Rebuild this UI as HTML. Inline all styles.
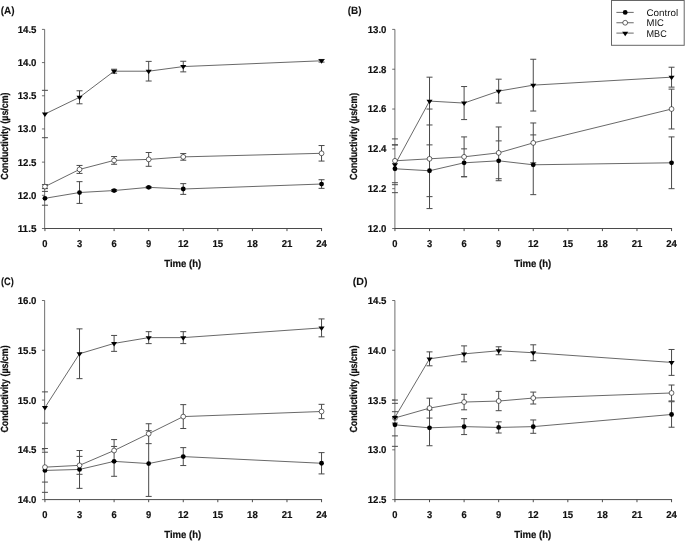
<!DOCTYPE html>
<html lang="en">
<head>
<meta charset="utf-8">
<title>Conductivity vs time</title>
<style>
html,body{margin:0;padding:0;background:#fff;}
body{width:685px;height:541px;overflow:hidden;}
svg{display:block;will-change:transform;text-rendering:geometricPrecision;}
text{font-family:'Liberation Sans', sans-serif;fill:#111;}
.tk{font-size:10px;font-weight:700;stroke:#111;stroke-width:0.18;}
.tt{font-size:10.3px;font-weight:700;stroke:#111;stroke-width:0.22;}
.pl{font-size:10.6px;font-weight:700;stroke:#111;stroke-width:0.08;}
.lg{font-size:9.7px;font-weight:400;}
.ln{fill:none;stroke:#2e2e2e;stroke-width:0.72;}
.eb{fill:none;stroke:#4a4a4a;stroke-width:1;}
.ax{fill:none;stroke:#4a4a4a;stroke-width:0.8;}
.axh{fill:none;stroke:#4a4a4a;stroke-width:1;}
</style>
</head>
<body>
<svg width="685" height="541" viewBox="0 0 685 541">
<rect width="685" height="541" fill="#fff"/>
<g class="panel">
<path class="eb" d="M79.53 90.79V103.8M79.53 165.45V173.42M79.53 181.65V203.41M114.1 69.22V73.2M114.1 156.56V164.26M114.1 189.54V191.53M148.68 61.39V81.03M148.68 152.51V166.31M148.68 186.56V188.15M183.25 61.26V71.87M183.25 153.57V160.21M183.25 183.64V194.39M321.55 59.46V62.12M321.55 145.54V161.07M321.55 179.72V188.35"/>
<path class="eb" d="M41.95 191.4h6M41.95 205.21h6M76.53 181.65h6M76.53 203.41h6M111.1 189.54h6M111.1 191.53h6M145.68 186.56h6M145.68 188.15h6M180.25 183.64h6M180.25 194.39h6M318.55 179.72h6M318.55 188.35h6M41.95 184.63h6M41.95 188.61h6M76.53 165.45h6M76.53 173.42h6M111.1 156.56h6M111.1 164.26h6M145.68 152.51h6M145.68 166.31h6M180.25 153.57h6M180.25 160.21h6M318.55 145.54h6M318.55 161.07h6M41.95 90.32h6M41.95 137.71h6M76.53 90.79h6M76.53 103.8h6M111.1 69.22h6M111.1 73.2h6M145.68 61.39h6M145.68 81.03h6M180.25 61.26h6M180.25 71.87h6M318.55 59.46h6M318.55 62.12h6"/>
<path class="ax" d="M44.65 29.4V228.5M41.95 228.5H44.65M41.95 195.32H44.65M41.95 162.13H44.65M41.95 128.95H44.65M41.95 95.77H44.65M41.95 62.58H44.65M41.95 29.4H44.65"/>
<path class="axh" d="M44.25 228.5H322.05M44.95 228.5v2.6M79.53 228.5v2.6M114.1 228.5v2.6M148.68 228.5v2.6M183.25 228.5v2.6M217.82 228.5v2.6M252.4 228.5v2.6M286.98 228.5v2.6M321.55 228.5v2.6"/>
<polyline class="ln" points="44.95,198.3 79.53,192.53 114.1,190.54 148.68,187.35 183.25,189.01 321.55,184.03"/>
<polyline class="ln" points="44.95,186.62 79.53,169.43 114.1,160.41 148.68,159.41 183.25,156.89 321.55,153.31"/>
<polyline class="ln" points="44.95,114.02 79.53,97.29 114.1,71.21 148.68,71.21 183.25,66.57 321.55,60.79"/>
<circle cx="44.95" cy="198.3" r="2.4" fill="#000"/>
<circle cx="79.53" cy="192.53" r="2.4" fill="#000"/>
<circle cx="114.1" cy="190.54" r="2.4" fill="#000"/>
<circle cx="148.68" cy="187.35" r="2.4" fill="#000"/>
<circle cx="183.25" cy="189.01" r="2.4" fill="#000"/>
<circle cx="321.55" cy="184.03" r="2.4" fill="#000"/>
<circle cx="44.95" cy="186.62" r="2.4" fill="#fff" stroke="#111" stroke-width="0.62"/>
<circle cx="79.53" cy="169.43" r="2.4" fill="#fff" stroke="#111" stroke-width="0.62"/>
<circle cx="114.1" cy="160.41" r="2.4" fill="#fff" stroke="#111" stroke-width="0.62"/>
<circle cx="148.68" cy="159.41" r="2.4" fill="#fff" stroke="#111" stroke-width="0.62"/>
<circle cx="183.25" cy="156.89" r="2.4" fill="#fff" stroke="#111" stroke-width="0.62"/>
<circle cx="321.55" cy="153.31" r="2.4" fill="#fff" stroke="#111" stroke-width="0.62"/>
<path d="M41.9 112.57H48L44.95 117.07Z" fill="#000"/>
<path d="M76.48 95.84H82.58L79.53 100.34Z" fill="#000"/>
<path d="M111.05 69.76H117.15L114.1 74.26Z" fill="#000"/>
<path d="M145.62 69.76H151.73L148.68 74.26Z" fill="#000"/>
<path d="M180.2 65.12H186.3L183.25 69.62Z" fill="#000"/>
<path d="M318.5 59.34H324.6L321.55 63.84Z" fill="#000"/>
<text class="tk" x="36.45" y="231.95" text-anchor="end" textLength="18.8" lengthAdjust="spacingAndGlyphs">11.5</text>
<text class="tk" x="36.45" y="198.77" text-anchor="end" textLength="18.8" lengthAdjust="spacingAndGlyphs">12.0</text>
<text class="tk" x="36.45" y="165.58" text-anchor="end" textLength="18.8" lengthAdjust="spacingAndGlyphs">12.5</text>
<text class="tk" x="36.45" y="132.4" text-anchor="end" textLength="18.8" lengthAdjust="spacingAndGlyphs">13.0</text>
<text class="tk" x="36.45" y="99.22" text-anchor="end" textLength="18.8" lengthAdjust="spacingAndGlyphs">13.5</text>
<text class="tk" x="36.45" y="66.03" text-anchor="end" textLength="18.8" lengthAdjust="spacingAndGlyphs">14.0</text>
<text class="tk" x="36.45" y="32.85" text-anchor="end" textLength="18.8" lengthAdjust="spacingAndGlyphs">14.5</text>
<text class="tk" x="44.95" y="246.8" text-anchor="middle" textLength="5.2" lengthAdjust="spacingAndGlyphs">0</text>
<text class="tk" x="79.53" y="246.8" text-anchor="middle" textLength="5.2" lengthAdjust="spacingAndGlyphs">3</text>
<text class="tk" x="114.1" y="246.8" text-anchor="middle" textLength="5.2" lengthAdjust="spacingAndGlyphs">6</text>
<text class="tk" x="148.68" y="246.8" text-anchor="middle" textLength="5.2" lengthAdjust="spacingAndGlyphs">9</text>
<text class="tk" x="183.25" y="246.8" text-anchor="middle" textLength="10.7" lengthAdjust="spacingAndGlyphs">12</text>
<text class="tk" x="217.82" y="246.8" text-anchor="middle" textLength="10.7" lengthAdjust="spacingAndGlyphs">15</text>
<text class="tk" x="252.4" y="246.8" text-anchor="middle" textLength="10.7" lengthAdjust="spacingAndGlyphs">18</text>
<text class="tk" x="286.98" y="246.8" text-anchor="middle" textLength="10.7" lengthAdjust="spacingAndGlyphs">21</text>
<text class="tk" x="321.55" y="246.8" text-anchor="middle" textLength="10.7" lengthAdjust="spacingAndGlyphs">24</text>
<text class="tt" x="182.8" y="266.7" text-anchor="middle" textLength="37" lengthAdjust="spacingAndGlyphs">Time (h)</text>
<text class="tt" transform="translate(8.45 136.1) rotate(-90)" text-anchor="middle" textLength="87.2" lengthAdjust="spacingAndGlyphs">Conductivity (µs/cm)</text>
<text class="pl" x="0.7" y="14.1" textLength="13.9" lengthAdjust="spacingAndGlyphs">(A)</text>
</g>
<g class="panel">
<path class="eb" d="M429.52 77.18V208.59M464.1 86.54V119.59M464.1 136.91V176.73M498.68 79.18V103.07M498.68 126.96V180.72M533.25 59.26V111.03M533.25 122.98V194.65M671.55 67.23V87.14M671.55 89.13V128.95M671.55 136.91V188.68"/>
<path class="eb" d="M391.95 144.88h6M391.95 192.66h6M426.52 144.88h6M426.52 196.64h6M461.1 148.86h6M461.1 176.73h6M495.68 140.9h6M495.68 180.72h6M530.25 134.92h6M530.25 194.65h6M668.55 136.91h6M668.55 188.68h6M391.95 138.91h6M391.95 182.71h6M426.52 109.04h6M426.52 208.59h6M461.1 136.91h6M461.1 176.73h6M495.68 126.96h6M495.68 178.72h6M530.25 122.98h6M530.25 162.8h6M668.55 89.13h6M668.55 128.95h6M391.95 144.88h6M391.95 184.7h6M426.52 77.18h6M426.52 124.97h6M461.1 86.54h6M461.1 119.59h6M495.68 79.18h6M495.68 103.07h6M530.25 59.26h6M530.25 111.03h6M668.55 67.23h6M668.55 87.14h6"/>
<path class="ax" d="M394.9 29.4V228.5M392.2 228.5H394.9M392.2 188.68H394.9M392.2 148.86H394.9M392.2 109.04H394.9M392.2 69.22H394.9M392.2 29.4H394.9"/>
<path class="axh" d="M394.5 228.5H672.05M394.95 228.5v2.6M429.52 228.5v2.6M464.1 228.5v2.6M498.68 228.5v2.6M533.25 228.5v2.6M567.83 228.5v2.6M602.4 228.5v2.6M636.98 228.5v2.6M671.55 228.5v2.6"/>
<polyline class="ln" points="394.95,168.77 429.52,170.76 464.1,162.8 498.68,160.81 533.25,164.79 671.55,162.8"/>
<polyline class="ln" points="394.95,160.81 429.52,158.82 464.1,156.82 498.68,152.84 533.25,142.89 671.55,109.04"/>
<polyline class="ln" points="394.95,164.79 429.52,101.08 464.1,103.07 498.68,91.12 533.25,85.15 671.55,77.18"/>
<circle cx="394.95" cy="168.77" r="2.4" fill="#000"/>
<circle cx="429.52" cy="170.76" r="2.4" fill="#000"/>
<circle cx="464.1" cy="162.8" r="2.4" fill="#000"/>
<circle cx="498.68" cy="160.81" r="2.4" fill="#000"/>
<circle cx="533.25" cy="164.79" r="2.4" fill="#000"/>
<circle cx="671.55" cy="162.8" r="2.4" fill="#000"/>
<circle cx="394.95" cy="160.81" r="2.4" fill="#fff" stroke="#111" stroke-width="0.62"/>
<circle cx="429.52" cy="158.82" r="2.4" fill="#fff" stroke="#111" stroke-width="0.62"/>
<circle cx="464.1" cy="156.82" r="2.4" fill="#fff" stroke="#111" stroke-width="0.62"/>
<circle cx="498.68" cy="152.84" r="2.4" fill="#fff" stroke="#111" stroke-width="0.62"/>
<circle cx="533.25" cy="142.89" r="2.4" fill="#fff" stroke="#111" stroke-width="0.62"/>
<circle cx="671.55" cy="109.04" r="2.4" fill="#fff" stroke="#111" stroke-width="0.62"/>
<path d="M391.9 163.34H398L394.95 167.84Z" fill="#000"/>
<path d="M426.47 99.63H432.57L429.52 104.13Z" fill="#000"/>
<path d="M461.05 101.62H467.15L464.1 106.12Z" fill="#000"/>
<path d="M495.62 89.67H501.73L498.68 94.17Z" fill="#000"/>
<path d="M530.2 83.7H536.3L533.25 88.2Z" fill="#000"/>
<path d="M668.5 75.73H674.6L671.55 80.23Z" fill="#000"/>
<text class="tk" x="386.45" y="231.95" text-anchor="end" textLength="18.8" lengthAdjust="spacingAndGlyphs">12.0</text>
<text class="tk" x="386.45" y="192.13" text-anchor="end" textLength="18.8" lengthAdjust="spacingAndGlyphs">12.2</text>
<text class="tk" x="386.45" y="152.31" text-anchor="end" textLength="18.8" lengthAdjust="spacingAndGlyphs">12.4</text>
<text class="tk" x="386.45" y="112.49" text-anchor="end" textLength="18.8" lengthAdjust="spacingAndGlyphs">12.6</text>
<text class="tk" x="386.45" y="72.67" text-anchor="end" textLength="18.8" lengthAdjust="spacingAndGlyphs">12.8</text>
<text class="tk" x="386.45" y="32.85" text-anchor="end" textLength="18.8" lengthAdjust="spacingAndGlyphs">13.0</text>
<text class="tk" x="394.95" y="246.8" text-anchor="middle" textLength="5.2" lengthAdjust="spacingAndGlyphs">0</text>
<text class="tk" x="429.52" y="246.8" text-anchor="middle" textLength="5.2" lengthAdjust="spacingAndGlyphs">3</text>
<text class="tk" x="464.1" y="246.8" text-anchor="middle" textLength="5.2" lengthAdjust="spacingAndGlyphs">6</text>
<text class="tk" x="498.68" y="246.8" text-anchor="middle" textLength="5.2" lengthAdjust="spacingAndGlyphs">9</text>
<text class="tk" x="533.25" y="246.8" text-anchor="middle" textLength="10.7" lengthAdjust="spacingAndGlyphs">12</text>
<text class="tk" x="567.83" y="246.8" text-anchor="middle" textLength="10.7" lengthAdjust="spacingAndGlyphs">15</text>
<text class="tk" x="602.4" y="246.8" text-anchor="middle" textLength="10.7" lengthAdjust="spacingAndGlyphs">18</text>
<text class="tk" x="636.98" y="246.8" text-anchor="middle" textLength="10.7" lengthAdjust="spacingAndGlyphs">21</text>
<text class="tk" x="671.55" y="246.8" text-anchor="middle" textLength="10.7" lengthAdjust="spacingAndGlyphs">24</text>
<text class="tt" x="532.8" y="266.7" text-anchor="middle" textLength="37" lengthAdjust="spacingAndGlyphs">Time (h)</text>
<text class="tt" transform="translate(357 136.3) rotate(-90)" text-anchor="middle" textLength="87.2" lengthAdjust="spacingAndGlyphs">Conductivity (µs/cm)</text>
<text class="pl" x="347.8" y="14.1" textLength="13.8" lengthAdjust="spacingAndGlyphs">(B)</text>
</g>
<g class="panel">
<path class="eb" d="M79.53 328.87V378.65M79.53 450.52V488.35M114.1 335.44V351.37M114.1 439.57V476.31M148.68 331.66V343.61M148.68 423.74V496.41M183.25 331.66V343.61M183.25 404.63V428.52M183.25 447.63V465.55M321.55 318.92V336.84M321.55 404.33V418.67M321.55 452.61V473.92"/>
<path class="eb" d="M41.95 448.53h6M41.95 492.33h6M76.53 450.52h6M76.53 488.35h6M111.1 446.44h6M111.1 476.31h6M145.68 430.71h6M145.68 496.41h6M180.25 447.63h6M180.25 465.55h6M318.55 452.61h6M318.55 473.92h6M41.95 452.21h6M41.95 482.08h6M76.53 456.4h6M76.53 474.31h6M111.1 439.57h6M111.1 461.47h6M145.68 423.74h6M145.68 443.65h6M180.25 404.63h6M180.25 428.52h6M318.55 404.33h6M318.55 418.67h6M41.95 391.89h6M41.95 423.15h6M76.53 328.87h6M76.53 378.65h6M111.1 335.44h6M111.1 351.37h6M145.68 331.66h6M145.68 343.61h6M180.25 331.66h6M180.25 343.61h6M318.55 318.92h6M318.55 336.84h6"/>
<path class="ax" d="M44.65 300.5V499.6M41.95 499.6H44.65M41.95 449.83H44.65M41.95 400.05H44.65M41.95 350.27H44.65M41.95 300.5H44.65"/>
<path class="axh" d="M44.25 499.6H322.05M44.95 499.6v2.6M79.53 499.6v2.6M114.1 499.6v2.6M148.68 499.6v2.6M183.25 499.6v2.6M217.82 499.6v2.6M252.4 499.6v2.6M286.98 499.6v2.6M321.55 499.6v2.6"/>
<polyline class="ln" points="44.95,470.43 79.53,469.44 114.1,461.37 148.68,463.56 183.25,456.59 321.55,463.26"/>
<polyline class="ln" points="44.95,467.15 79.53,465.35 114.1,450.52 148.68,433.7 183.25,416.58 321.55,411.5"/>
<polyline class="ln" points="44.95,407.52 79.53,353.76 114.1,343.41 148.68,337.63 183.25,337.63 321.55,327.88"/>
<circle cx="44.95" cy="470.43" r="2.4" fill="#000"/>
<circle cx="79.53" cy="469.44" r="2.4" fill="#000"/>
<circle cx="114.1" cy="461.37" r="2.4" fill="#000"/>
<circle cx="148.68" cy="463.56" r="2.4" fill="#000"/>
<circle cx="183.25" cy="456.59" r="2.4" fill="#000"/>
<circle cx="321.55" cy="463.26" r="2.4" fill="#000"/>
<circle cx="44.95" cy="467.15" r="2.4" fill="#fff" stroke="#111" stroke-width="0.62"/>
<circle cx="79.53" cy="465.35" r="2.4" fill="#fff" stroke="#111" stroke-width="0.62"/>
<circle cx="114.1" cy="450.52" r="2.4" fill="#fff" stroke="#111" stroke-width="0.62"/>
<circle cx="148.68" cy="433.7" r="2.4" fill="#fff" stroke="#111" stroke-width="0.62"/>
<circle cx="183.25" cy="416.58" r="2.4" fill="#fff" stroke="#111" stroke-width="0.62"/>
<circle cx="321.55" cy="411.5" r="2.4" fill="#fff" stroke="#111" stroke-width="0.62"/>
<path d="M41.9 406.07H48L44.95 410.57Z" fill="#000"/>
<path d="M76.48 352.31H82.58L79.53 356.81Z" fill="#000"/>
<path d="M111.05 341.96H117.15L114.1 346.46Z" fill="#000"/>
<path d="M145.62 336.18H151.73L148.68 340.68Z" fill="#000"/>
<path d="M180.2 336.18H186.3L183.25 340.68Z" fill="#000"/>
<path d="M318.5 326.43H324.6L321.55 330.93Z" fill="#000"/>
<text class="tk" x="36.45" y="503.05" text-anchor="end" textLength="18.8" lengthAdjust="spacingAndGlyphs">14.0</text>
<text class="tk" x="36.45" y="453.28" text-anchor="end" textLength="18.8" lengthAdjust="spacingAndGlyphs">14.5</text>
<text class="tk" x="36.45" y="403.5" text-anchor="end" textLength="18.8" lengthAdjust="spacingAndGlyphs">15.0</text>
<text class="tk" x="36.45" y="353.72" text-anchor="end" textLength="18.8" lengthAdjust="spacingAndGlyphs">15.5</text>
<text class="tk" x="36.45" y="303.95" text-anchor="end" textLength="18.8" lengthAdjust="spacingAndGlyphs">16.0</text>
<text class="tk" x="44.95" y="517.9" text-anchor="middle" textLength="5.2" lengthAdjust="spacingAndGlyphs">0</text>
<text class="tk" x="79.53" y="517.9" text-anchor="middle" textLength="5.2" lengthAdjust="spacingAndGlyphs">3</text>
<text class="tk" x="114.1" y="517.9" text-anchor="middle" textLength="5.2" lengthAdjust="spacingAndGlyphs">6</text>
<text class="tk" x="148.68" y="517.9" text-anchor="middle" textLength="5.2" lengthAdjust="spacingAndGlyphs">9</text>
<text class="tk" x="183.25" y="517.9" text-anchor="middle" textLength="10.7" lengthAdjust="spacingAndGlyphs">12</text>
<text class="tk" x="217.82" y="517.9" text-anchor="middle" textLength="10.7" lengthAdjust="spacingAndGlyphs">15</text>
<text class="tk" x="252.4" y="517.9" text-anchor="middle" textLength="10.7" lengthAdjust="spacingAndGlyphs">18</text>
<text class="tk" x="286.98" y="517.9" text-anchor="middle" textLength="10.7" lengthAdjust="spacingAndGlyphs">21</text>
<text class="tk" x="321.55" y="517.9" text-anchor="middle" textLength="10.7" lengthAdjust="spacingAndGlyphs">24</text>
<text class="tt" x="182.8" y="537.8" text-anchor="middle" textLength="37" lengthAdjust="spacingAndGlyphs">Time (h)</text>
<text class="tt" transform="translate(8.45 389) rotate(-90)" text-anchor="middle" textLength="87.2" lengthAdjust="spacingAndGlyphs">Conductivity (µs/cm)</text>
<text class="pl" x="0.9" y="285" textLength="12.9" lengthAdjust="spacingAndGlyphs">(C)</text>
</g>
<g class="panel">
<path class="eb" d="M429.52 351.87V365.8M429.52 398.16V445.74M464.1 345.89V361.82M464.1 394.28V409.81M464.1 418.67V434.59M498.68 346.79V354.75M498.68 391.39V410.7M498.68 421.85V433M533.25 344.8V360.73M533.25 392.09V404.03M533.25 419.96V433.3M671.55 349.48V375.36M671.55 385.02V400.95M671.55 401.74V427.23"/>
<path class="eb" d="M391.95 403.34h6M391.95 446.34h6M426.52 409.91h6M426.52 445.74h6M461.1 418.67h6M461.1 434.59h6M495.68 421.85h6M495.68 433h6M530.25 419.96h6M530.25 433.3h6M668.55 401.74h6M668.55 427.23h6M391.95 400.05h6M391.95 435.89h6M426.52 398.16h6M426.52 418.07h6M461.1 394.28h6M461.1 409.81h6M495.68 391.39h6M495.68 410.7h6M530.25 392.09h6M530.25 404.03h6M668.55 385.02h6M668.55 400.95h6M391.95 411.7h6M391.95 423.05h6M426.52 351.87h6M426.52 365.8h6M461.1 345.89h6M461.1 361.82h6M495.68 346.79h6M495.68 354.75h6M530.25 344.8h6M530.25 360.73h6M668.55 349.48h6M668.55 375.36h6"/>
<path class="ax" d="M394.9 300.5V499.6M392.2 499.6H394.9M392.2 449.83H394.9M392.2 400.05H394.9M392.2 350.27H394.9M392.2 300.5H394.9"/>
<path class="axh" d="M394.5 499.6H672.05M394.95 499.6v2.6M429.52 499.6v2.6M464.1 499.6v2.6M498.68 499.6v2.6M533.25 499.6v2.6M567.83 499.6v2.6M602.4 499.6v2.6M636.98 499.6v2.6M671.55 499.6v2.6"/>
<polyline class="ln" points="394.95,424.84 429.52,427.82 464.1,426.63 498.68,427.43 533.25,426.63 671.55,414.48"/>
<polyline class="ln" points="394.95,417.97 429.52,408.11 464.1,402.04 498.68,401.05 533.25,398.06 671.55,392.98"/>
<polyline class="ln" points="394.95,417.37 429.52,358.84 464.1,353.86 498.68,350.77 533.25,352.76 671.55,362.42"/>
<circle cx="394.95" cy="424.84" r="2.4" fill="#000"/>
<circle cx="429.52" cy="427.82" r="2.4" fill="#000"/>
<circle cx="464.1" cy="426.63" r="2.4" fill="#000"/>
<circle cx="498.68" cy="427.43" r="2.4" fill="#000"/>
<circle cx="533.25" cy="426.63" r="2.4" fill="#000"/>
<circle cx="671.55" cy="414.48" r="2.4" fill="#000"/>
<circle cx="394.95" cy="417.97" r="2.4" fill="#fff" stroke="#111" stroke-width="0.62"/>
<circle cx="429.52" cy="408.11" r="2.4" fill="#fff" stroke="#111" stroke-width="0.62"/>
<circle cx="464.1" cy="402.04" r="2.4" fill="#fff" stroke="#111" stroke-width="0.62"/>
<circle cx="498.68" cy="401.05" r="2.4" fill="#fff" stroke="#111" stroke-width="0.62"/>
<circle cx="533.25" cy="398.06" r="2.4" fill="#fff" stroke="#111" stroke-width="0.62"/>
<circle cx="671.55" cy="392.98" r="2.4" fill="#fff" stroke="#111" stroke-width="0.62"/>
<path d="M391.9 415.92H398L394.95 420.42Z" fill="#000"/>
<path d="M426.47 357.39H432.57L429.52 361.89Z" fill="#000"/>
<path d="M461.05 352.41H467.15L464.1 356.91Z" fill="#000"/>
<path d="M495.62 349.32H501.73L498.68 353.82Z" fill="#000"/>
<path d="M530.2 351.31H536.3L533.25 355.81Z" fill="#000"/>
<path d="M668.5 360.97H674.6L671.55 365.47Z" fill="#000"/>
<text class="tk" x="386.45" y="503.05" text-anchor="end" textLength="18.8" lengthAdjust="spacingAndGlyphs">12.5</text>
<text class="tk" x="386.45" y="453.28" text-anchor="end" textLength="18.8" lengthAdjust="spacingAndGlyphs">13.0</text>
<text class="tk" x="386.45" y="403.5" text-anchor="end" textLength="18.8" lengthAdjust="spacingAndGlyphs">13.5</text>
<text class="tk" x="386.45" y="353.72" text-anchor="end" textLength="18.8" lengthAdjust="spacingAndGlyphs">14.0</text>
<text class="tk" x="386.45" y="303.95" text-anchor="end" textLength="18.8" lengthAdjust="spacingAndGlyphs">14.5</text>
<text class="tk" x="394.95" y="517.9" text-anchor="middle" textLength="5.2" lengthAdjust="spacingAndGlyphs">0</text>
<text class="tk" x="429.52" y="517.9" text-anchor="middle" textLength="5.2" lengthAdjust="spacingAndGlyphs">3</text>
<text class="tk" x="464.1" y="517.9" text-anchor="middle" textLength="5.2" lengthAdjust="spacingAndGlyphs">6</text>
<text class="tk" x="498.68" y="517.9" text-anchor="middle" textLength="5.2" lengthAdjust="spacingAndGlyphs">9</text>
<text class="tk" x="533.25" y="517.9" text-anchor="middle" textLength="10.7" lengthAdjust="spacingAndGlyphs">12</text>
<text class="tk" x="567.83" y="517.9" text-anchor="middle" textLength="10.7" lengthAdjust="spacingAndGlyphs">15</text>
<text class="tk" x="602.4" y="517.9" text-anchor="middle" textLength="10.7" lengthAdjust="spacingAndGlyphs">18</text>
<text class="tk" x="636.98" y="517.9" text-anchor="middle" textLength="10.7" lengthAdjust="spacingAndGlyphs">21</text>
<text class="tk" x="671.55" y="517.9" text-anchor="middle" textLength="10.7" lengthAdjust="spacingAndGlyphs">24</text>
<text class="tt" x="532.8" y="537.8" text-anchor="middle" textLength="37" lengthAdjust="spacingAndGlyphs">Time (h)</text>
<text class="tt" transform="translate(357 389) rotate(-90)" text-anchor="middle" textLength="87.2" lengthAdjust="spacingAndGlyphs">Conductivity (µs/cm)</text>
<text class="pl" x="352.7" y="285" textLength="14.8" lengthAdjust="spacingAndGlyphs">(D)</text>
</g>
<g class="legend">
<rect x="611.5" y="0.5" width="72.7" height="44.8" fill="#fff" stroke="#666" stroke-width="1"/>
<path class="ln" d="M616.4 12.4H633.7"/>
<circle cx="625.2" cy="12.4" r="2.4" fill="#000"/>
<text class="lg" x="646.5" y="15.9" textLength="31.7" lengthAdjust="spacingAndGlyphs">Control</text>
<path class="ln" d="M616.4 22.75H633.7"/>
<circle cx="625.2" cy="22.75" r="2.4" fill="#fff" stroke="#111" stroke-width="0.62"/>
<text class="lg" x="646.5" y="26.25" textLength="17.4" lengthAdjust="spacingAndGlyphs">MIC</text>
<path class="ln" d="M616.4 33.1H633.7"/>
<path d="M622.15 31.65H628.25L625.2 36.15Z" fill="#000"/>
<text class="lg" x="646.5" y="36.6" textLength="20.2" lengthAdjust="spacingAndGlyphs">MBC</text>
</g>
</svg>
</body>
</html>
